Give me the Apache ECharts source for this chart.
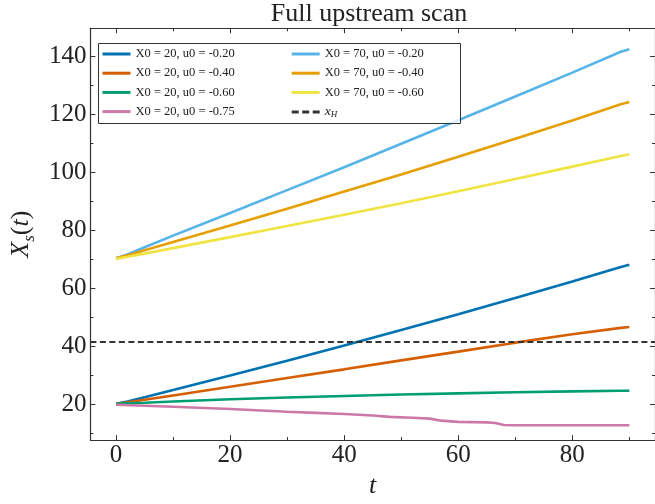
<!DOCTYPE html>
<html>
<head>
<meta charset="utf-8">
<script src="https://cdn.jsdelivr.net/npm/echarts@6/dist/echarts.min.js"></script>
<style>
  html, body { margin: 0; padding: 0; background: #fff; }
  #chart { width: 655px; height: 504px; }
</style>
</head>
<body>
<div id="chart"></div>
<script>
  // sample times shared by the smooth runs
  const tVals = [0, 2, 5, 10, 20, 30, 40, 50, 60, 70, 80, 88.5, 90];

  const x20u020 = [20.3, 21.1, 22.6, 25.1, 30.1, 35.2, 40.4, 45.8, 51.2, 56.8, 62.5, 67.5, 68.3];
  const x20u040 = [20.3, 20.8, 21.7, 23.2, 26.2, 29.2, 32.2, 35.3, 38.3, 41.4, 44.3, 46.5, 46.8];
  const x20u060 = [20.3, 20.5, 20.7, 21.1, 21.9, 22.5, 23.0, 23.5, 23.9, 24.3, 24.6, 24.8, 24.8];
  const x70u020 = [70.5, 71.8, 74.3, 78.3, 86.1, 94.0, 101.9, 110.0, 118.1, 126.3, 134.5, 141.7, 142.6];
  const x70u040 = [70.5, 71.5, 73.3, 76.1, 81.8, 87.6, 93.5, 99.4, 105.5, 111.7, 118.0, 123.6, 124.4];
  const x70u060 = [70.3, 71.0, 72.1, 74.0, 77.8, 81.6, 85.5, 89.5, 93.6, 97.8, 102.1, 105.8, 106.4];

  // the u0 = -0.75 run steps down, so it has its own times
  const tPink = [0, 10, 20, 30, 35, 40, 45, 48, 52, 55, 57, 60, 65, 66.5, 68, 70, 80, 90];
  const x20u075 = [20.0, 19.3, 18.5, 17.6, 17.2, 16.8, 16.3, 15.8, 15.5, 15.2, 14.5, 14.1, 13.9, 13.7, 13.0, 12.9, 12.9, 12.9];

  const xH = 41.6;

  const names = [
    "X0 = 20, u0 = -0.20",
    "X0 = 20, u0 = -0.40",
    "X0 = 20, u0 = -0.60",
    "X0 = 20, u0 = -0.75",
    "X0 = 70, u0 = -0.20",
    "X0 = 70, u0 = -0.40",
    "X0 = 70, u0 = -0.60",
    "xH"
  ];
  const colors = ["#0072B2", "#D55E00", "#009E73", "#CC79A7", "#56B4E9", "#E69F00", "#F0E442", "#333333"];

  const xMajor = [0, 20, 40, 60, 80];
  const xMinor = [10, 30, 50, 70, 90];
  const yMajor = [20, 40, 60, 80, 100, 120, 140];
  const yMinor = [10, 30, 50, 70, 90, 110, 130];

  const X_MIN = -4.5, X_MAX = 94.5;
  const Y_MIN = 7.8, Y_MAX = 149.8;

  const FONT = "Liberation Serif";
  const INK = "#222";
  const AXIS = "#333";
  const DASH_ICON = "path://M0,0h7v3h-7zM10.5,0h7v3h-7zM21,0h7v3h-7z";

  function pairs(ts, vs) {
    return ts.map((t, i) => [t, vs[i]]);
  }

  function axis(kind, pos, ticks, len, withLine, withLabels) {
    const a = {
      type: "value",
      position: pos,
      min: kind === "x" ? X_MIN : Y_MIN,
      max: kind === "x" ? X_MAX : Y_MAX,
      axisLine: {show: withLine, onZero: false, lineStyle: {color: AXIS, width: 1.2}},
      axisTick: {show: true, inside: true, length: len, customValues: ticks, lineStyle: {color: AXIS, width: 1}},
      axisLabel: {show: false},
      splitLine: {show: false}
    };
    if (withLabels) {
      a.axisLabel = {
        show: true,
        customValues: ticks,
        margin: kind === "x" ? 3 : 4,
        fontFamily: FONT,
        fontSize: 25,
        color: INK
      };
    }
    return a;
  }

  const xAxes = [
    axis("x", "bottom", xMajor, 5, true, true),
    axis("x", "top", xMajor, 5, true, false),
    axis("x", "bottom", xMinor, 3, false, false),
    axis("x", "top", xMinor, 3, false, false)
  ];
  xAxes[0].name = "t";
  xAxes[0].nameLocation = "middle";
  xAxes[0].nameGap = 32;
  xAxes[0].nameTextStyle = {fontFamily: FONT, fontStyle: "italic", fontSize: 26, color: INK};

  const yAxes = [
    axis("y", "left", yMajor, 5, true, true),
    axis("y", "right", yMajor, 5, true, false),
    axis("y", "left", yMinor, 3, false, false),
    axis("y", "right", yMinor, 3, false, false)
  ];
  yAxes[0].name = "{x|X}{s|s}{b|(}{x|t}{b|)}";
  yAxes[0].nameLocation = "middle";
  yAxes[0].nameGap = 48;
  yAxes[0].nameTextStyle = {
    fontFamily: FONT,
    color: INK,
    rich: {
      x: {fontFamily: FONT, fontSize: 26, fontStyle: "italic", verticalAlign: "top", lineHeight: 30, color: INK},
      b: {fontFamily: FONT, fontSize: 26, verticalAlign: "top", lineHeight: 30, color: INK},
      s: {fontFamily: FONT, fontSize: 17, fontStyle: "italic", verticalAlign: "bottom", lineHeight: 18, color: INK}
    }
  };

  const runs = [
    pairs(tVals, x20u020),
    pairs(tVals, x20u040),
    pairs(tVals, x20u060),
    pairs(tPink, x20u075),
    pairs(tVals, x70u020),
    pairs(tVals, x70u040),
    pairs(tVals, x70u060)
  ];

  const series = runs.map((d, i) => ({
    name: names[i],
    type: "line",
    xAxisIndex: 0,
    yAxisIndex: 0,
    data: d,
    symbol: "none",
    smooth: false,
    lineStyle: {color: colors[i], width: 2.6},
    itemStyle: {color: colors[i]},
    z: 2
  }));
  series.push({
    name: "xH",
    type: "line",
    xAxisIndex: 0,
    yAxisIndex: 0,
    data: [[X_MIN, xH], [X_MAX, xH]],
    symbol: "none",
    lineStyle: {color: colors[7], width: 2, type: [6, 3.5]},
    itemStyle: {color: colors[7]},
    z: 3
  });

  function legendItems(list) {
    return list.map(n => ({name: n, icon: n === "xH" ? DASH_ICON : "rect"}));
  }

  const legendBase = {
    orient: "vertical",
    top: 47,
    itemGap: 5.2,
    itemWidth: 28,
    itemHeight: 3,
    padding: 0,
    z: 6,
    textStyle: {
      fontFamily: FONT,
      fontSize: 12.5,
      lineHeight: 14,
      color: INK,
      rich: {
        i: {fontFamily: FONT, fontSize: 13.5, fontStyle: "italic", verticalAlign: "top", lineHeight: 15, color: INK},
        h: {fontFamily: FONT, fontSize: 9, fontStyle: "italic", verticalAlign: "bottom", lineHeight: 10, color: INK}
      }
    },
    formatter: function (n) {
      return n === "xH" ? "{i|x}{h|H}" : n;
    }
  };

  const chart = echarts.init(document.getElementById("chart"));
  chart.setOption({
    animation: false,
    backgroundColor: "#fff",
    title: {
      text: "Full upstream scan",
      left: 369,
      top: 1,
      textAlign: "center",
      padding: 0,
      textStyle: {fontFamily: FONT, fontSize: 26, fontWeight: "normal", color: INK}
    },
    grid: {left: 81.7, top: 28.3, right: -1.8, bottom: 58},
    xAxis: xAxes,
    yAxis: yAxes,
    legend: [
      Object.assign({}, legendBase, {left: 102.5, data: legendItems(names.slice(0, 4))}),
      Object.assign({}, legendBase, {left: 291.7, data: legendItems(names.slice(4))})
    ],
    graphic: [{
      type: "rect",
      left: 98,
      top: 43,
      z: 5,
      shape: {width: 362, height: 80},
      style: {fill: "rgba(255,255,255,0.8)", stroke: AXIS, lineWidth: 1}
    }],
    series: series
  });
</script>
</body>
</html>
